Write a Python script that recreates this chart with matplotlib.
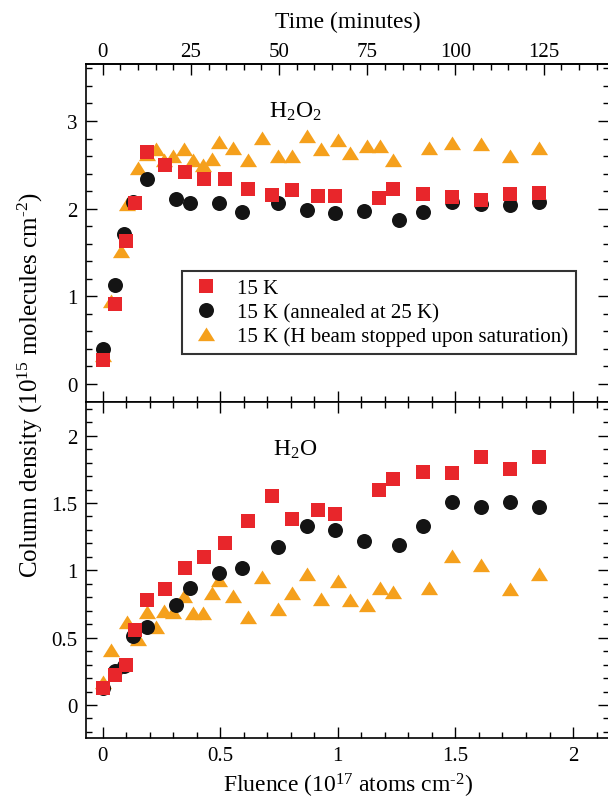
import matplotlib
matplotlib.use("Agg")
import matplotlib.pyplot as plt
from matplotlib.ticker import MultipleLocator, FuncFormatter
from matplotlib.path import Path

plt.rcParams['font.family'] = ['Liberation Serif', 'DejaVu Serif']
plt.rcParams['mathtext.fontset'] = 'custom'
plt.rcParams['mathtext.rm'] = 'Liberation Serif'
plt.rcParams['mathtext.it'] = 'Liberation Serif:italic'
plt.rcParams['mathtext.bf'] = 'Liberation Serif:bold'

# ---- data (fluence in 1e17 atoms cm^-2, column density in 1e15 molecules cm^-2)
fluence_red = [0, 0.052, 0.100, 0.138, 0.188, 0.263, 0.349, 0.432, 0.520, 0.619, 0.719,
               0.805, 0.914, 0.989, 1.175, 1.236, 1.361, 1.484, 1.609, 1.732, 1.857]
h2o2_red = [0.27, 0.91, 1.63, 2.06, 2.65, 2.50, 2.42, 2.34, 2.34, 2.23, 2.16,
            2.21, 2.15, 2.14, 2.12, 2.23, 2.17, 2.13, 2.10, 2.17, 2.18]
h2o_red = [0.124, 0.22, 0.30, 0.56, 0.78, 0.86, 1.02, 1.10, 1.20, 1.37, 1.55,
           1.38, 1.45, 1.42, 1.60, 1.68, 1.73, 1.72, 1.84, 1.75, 1.84]

fluence_black = [0, 0.052, 0.090, 0.128, 0.188, 0.310, 0.371, 0.496, 0.594, 0.744,
                 0.867, 0.989, 1.113, 1.261, 1.361, 1.484, 1.609, 1.732, 1.857]
h2o2_black = [0.40, 1.13, 1.71, 2.08, 2.34, 2.11, 2.07, 2.06, 1.96, 2.07,
              1.99, 1.95, 1.97, 1.87, 1.96, 2.08, 2.05, 2.04, 2.08]
h2o_black = [0.124, 0.255, 0.29, 0.51, 0.58, 0.74, 0.87, 0.98, 1.02, 1.17,
             1.33, 1.30, 1.22, 1.19, 1.33, 1.51, 1.47, 1.51, 1.47]

fluence_orange = [0, 0.036, 0.079, 0.104, 0.152, 0.187, 0.227, 0.261, 0.300, 0.347,
                  0.386, 0.425, 0.463, 0.496, 0.556, 0.619, 0.679, 0.744, 0.805, 0.867,
                  0.928, 0.999, 1.052, 1.125, 1.179, 1.236, 1.386, 1.484, 1.609, 1.732, 1.857]
h2o2_orange = [0.33, 0.95, 1.52, 2.05, 2.46, 2.62, 2.68, 2.56, 2.60, 2.68,
               2.55, 2.50, 2.57, 2.76, 2.69, 2.56, 2.81, 2.60, 2.60, 2.83,
               2.68, 2.78, 2.63, 2.71, 2.71, 2.55, 2.69, 2.75, 2.74, 2.60, 2.69]
h2o_orange = [0.17, 0.41, 0.30, 0.62, 0.49, 0.69, 0.58, 0.70, 0.69, 0.81,
              0.68, 0.68, 0.83, 0.93, 0.81, 0.65, 0.95, 0.71, 0.83, 0.97,
              0.79, 0.92, 0.78, 0.74, 0.87, 0.84, 0.87, 1.11, 1.04, 0.86, 0.97]

labels = ["15 K", "15 K (annealed at 25 K)", "15 K (H beam stopped upon saturation)"]
minutes_per_fluence = 1 / 0.015   # top axis: time in minutes
time_ticks = [0, 25, 50, 75, 100, 125]

RED = '#E8262B'
BLACK = '#141414'
ORANGE = '#F5A01C'

tri = Path([(-1, -0.78), (1, -0.78), (0, 0.82), (-1, -0.78)],
           [Path.MOVETO, Path.LINETO, Path.LINETO, Path.CLOSEPOLY])

W, H = 608, 803
fig = plt.figure(figsize=(W / 100, H / 100), dpi=100)
xl, xr = 86, 609
ax1 = fig.add_axes([xl / W, 1 - 403 / H, (xr - xl) / W, (403 - 65) / H])
ax2 = fig.add_axes([xl / W, 1 - 739 / H, (xr - xl) / W, (739 - 403) / H])

XLIM = (-0.071, 2.153)
series_top = [(fluence_orange, h2o2_orange, ORANGE, tri, 12.3),
              (fluence_black, h2o2_black, BLACK, 'o', 10.8),
              (fluence_red, h2o2_red, RED, 's', 9.8)]
series_bot = [(fluence_orange, h2o_orange, ORANGE, tri, 12.3),
              (fluence_black, h2o_black, BLACK, 'o', 10.8),
              (fluence_red, h2o_red, RED, 's', 9.8)]

handles = {}
for ax, series in ((ax1, series_top), (ax2, series_bot)):
    for (x, y, c, m, ms) in series:
        h, = ax.plot(x, y, linestyle='none', marker=m, ms=ms, color=c,
                     markeredgewidth=0, clip_on=False)
        handles[c] = h
    ax.set_xlim(*XLIM)
    ax.xaxis.set_major_locator(MultipleLocator(0.5))
    ax.xaxis.set_minor_locator(MultipleLocator(0.1))
    ax.tick_params(which='both', direction='in', top=True, right=True,
                   labelsize=15, width=1.0, pad=6)
    ax.tick_params(which='major', length=8)
    ax.tick_params(which='minor', length=4)
    for s in ax.spines.values():
        s.set_linewidth(1.2)
    ax.yaxis.set_major_formatter(FuncFormatter(lambda v, p: '%g' % v))
    ax.xaxis.set_major_formatter(FuncFormatter(lambda v, p: '%g' % v))

ax1.set_ylim(-0.205, 3.65)
ax1.yaxis.set_major_locator(MultipleLocator(1))
ax1.yaxis.set_minor_locator(MultipleLocator(0.2))
ax1.tick_params(axis='x', which='both', top=False, labelbottom=False)

ax2.set_ylim(-0.245, 2.25)
ax2.yaxis.set_major_locator(MultipleLocator(0.5))
ax2.yaxis.set_minor_locator(MultipleLocator(0.1))

# top time axis
sec = ax1.secondary_xaxis('top', functions=(lambda f: f * minutes_per_fluence,
                                            lambda t: t / minutes_per_fluence))
sec.set_xticks(time_ticks)
sec.xaxis.set_minor_locator(MultipleLocator(5))
sec.tick_params(which='both', direction='in', labelsize=15, width=1.0, pad=2)
sec.tick_params(which='major', length=8)
sec.tick_params(which='minor', length=4)
sec.spines['top'].set_linewidth(1.2)
sec.set_xlabel('Time (minutes)', fontsize=17, labelpad=11)

ax2.set_xlabel('Fluence (10$^{17}$ atoms cm$^{\\text{-}2}$)', fontsize=17, labelpad=4)
fig.text(0.05, 1 - 385 / H, 'Column density (10$^{15}$ molecules cm$^{\\text{-}2}$)',
         rotation=90, fontsize=18, ha='center', va='center')

ax1.text(0.40, 0.86, 'H$_2$O$_2$', transform=ax1.transAxes, fontsize=17,
         ha='center', va='center')
ax2.text(0.40, 0.86, 'H$_2$O', transform=ax2.transAxes, fontsize=17,
         ha='center', va='center')

leg = ax1.legend([handles[RED], handles[BLACK], handles[ORANGE]], labels,
                 loc='upper left', bbox_to_anchor=((182 - xl) / (xr - xl), (403 - 272) / 338),
                 borderaxespad=0, fontsize=15, frameon=True, fancybox=False,
                 edgecolor='black', handlelength=1.6, handletextpad=0.7,
                 labelspacing=0.22, borderpad=0.35, numpoints=1)
leg.get_frame().set_linewidth(1.5)

fig.savefig('out.png', dpi=100)
